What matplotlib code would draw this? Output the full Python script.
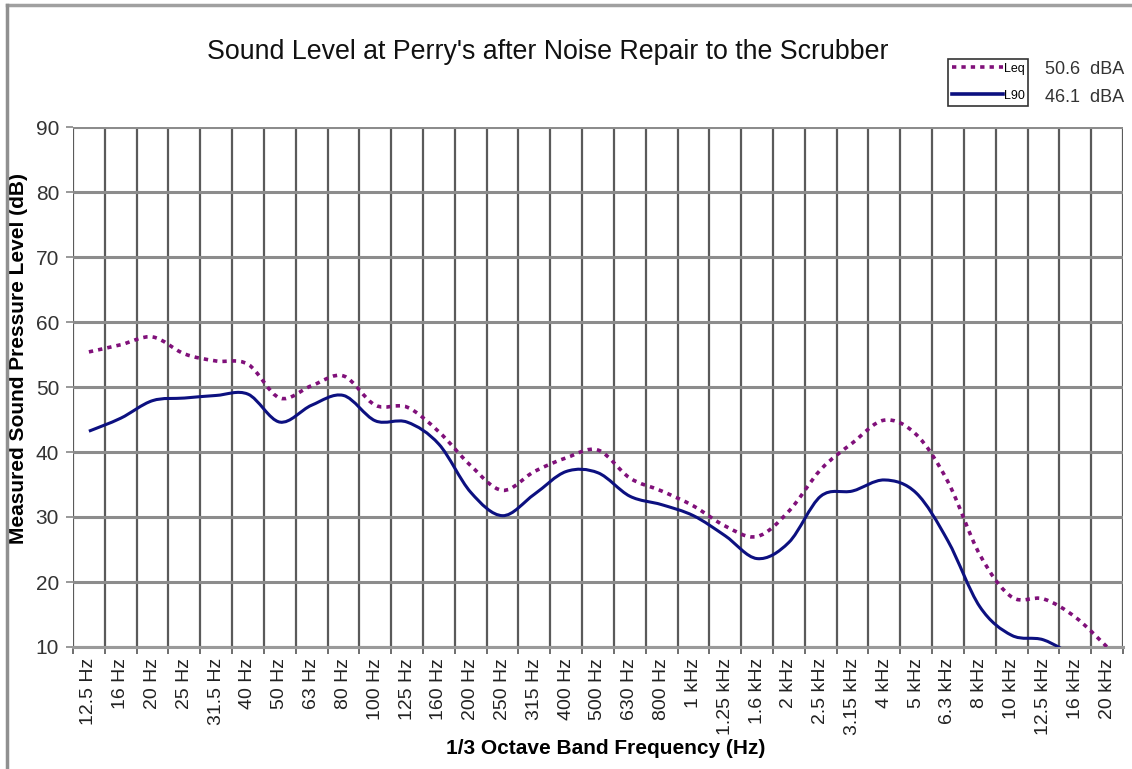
import numpy as np
import matplotlib
matplotlib.use('Agg')
import matplotlib.pyplot as plt
from matplotlib.path import Path
from matplotlib.patches import PathPatch
from matplotlib.lines import Line2D

plt.rcParams['font.family'] = ['Liberation Sans', 'DejaVu Sans']

bands = ['12.5 Hz', '16 Hz', '20 Hz', '25 Hz', '31.5 Hz', '40 Hz', '50 Hz', '63 Hz', '80 Hz',
         '100 Hz', '125 Hz', '160 Hz', '200 Hz', '250 Hz', '315 Hz', '400 Hz', '500 Hz',
         '630 Hz', '800 Hz', '1 kHz', '1.25 kHz', '1.6 kHz', '2 kHz', '2.5 kHz', '3.15 kHz',
         '4 kHz', '5 kHz', '6.3 kHz', '8 kHz', '10 kHz', '12.5 kHz', '16 kHz', '20 kHz']
leq = [55.4, 56.5, 57.7, 55.1, 54.0, 53.5, 48.3, 50.2, 51.7, 47.2, 46.9, 43.1, 37.9, 34.1,
       37.0, 39.1, 40.3, 36.0, 34.0, 31.7, 28.6, 27.0, 30.9, 37.3, 41.4, 44.9, 42.7, 35.4,
       24.2, 17.7, 17.4, 14.6, 10.0]
l90 = [43.2, 45.2, 47.9, 48.3, 48.7, 48.9, 44.6, 47.2, 48.7, 44.8, 44.6, 41.2, 33.8, 30.2,
       33.5, 37.0, 36.8, 33.2, 31.9, 30.2, 27.1, 23.6, 26.1, 33.2, 34.0, 35.7, 33.7, 26.3,
       16.2, 11.8, 11.1, 8.5]
leq_dba = '50.6  dBA'
l90_dba = '46.1  dBA'


def smooth_path(vals):
    # Excel style smoothed line: cubic bezier through points (catmull-rom tangents)
    pts = np.column_stack([np.arange(len(vals)), vals]).astype(float)
    verts = [pts[0]]; codes = [Path.MOVETO]
    n = len(pts)
    for i in range(n - 1):
        p0 = pts[max(i - 1, 0)]; p1 = pts[i]; p2 = pts[i + 1]; p3 = pts[min(i + 2, n - 1)]
        verts += [p1 + (p2 - p0) / 6, p2 - (p3 - p1) / 6, p2]
        codes += [Path.CURVE4] * 3
    return Path(verts, codes)


fig = plt.figure(figsize=(11.32, 7.69), dpi=100)
ax = fig.add_axes([73/1132, 1 - 647/769, 1050/1132, 520/769])

n = len(bands)
ax.set_xlim(-0.5, n - 0.5); ax.set_ylim(10, 90)
ax.set_xticks(np.arange(n + 1) - 0.5)
ax.set_xticklabels([])
ax.set_xticks(np.arange(n), minor=True)
ax.set_xticklabels(bands, minor=True, rotation=90, fontsize=14, color='#222222')
ax.tick_params(axis='x', which='major', length=5, width=1.2, color='#555555', direction='out')
ax.tick_params(axis='x', which='minor', length=0, pad=8)
ax.set_yticks(np.arange(10, 91, 10))
ax.tick_params(axis='y', length=5, width=1.2, color='#888888', labelsize=15, labelcolor='#333333', pad=5)
ax.grid(True, axis='x', which='major', color='#5a5a5a', lw=1.6)
ax.grid(True, axis='y', color='#8c8c8c', lw=2.2)
for s in ['top', 'right']: ax.spines[s].set_visible(False)
ax.spines['left'].set_visible(False)
ax.spines['bottom'].set_color('#9a9a9a'); ax.spines['bottom'].set_linewidth(2.2)

ax.add_patch(PathPatch(smooth_path(leq), fill=False, edgecolor='#80107a', lw=2.6,
                       linestyle=(0, (1.2, 1.4)), capstyle='butt', zorder=4))
ax.add_patch(PathPatch(smooth_path(l90), fill=False, edgecolor='#0c1080', lw=2.2, zorder=5))

ax.set_xlabel('1/3 Octave Band Frequency (Hz)', fontsize=15, fontweight='bold')
ax.xaxis.set_label_coords(0.507, -92/520)
ax.set_ylabel('Measured Sound Pressure Level (dB)', fontsize=15, fontweight='bold')
ax.yaxis.set_label_coords(-45/1050, 0.554)

fig.text(548/1132, 1 - 52/769, "Sound Level at Perry's after Noise Repair to the Scrubber",
         ha='center', va='center', fontsize=19.3, color='#111111')

handles = [Line2D([], [], color='#80107a', lw=2.6, linestyle=(0, (1.2, 1.4))),
           Line2D([], [], color='#0c1080', lw=2.6)]
leg = fig.legend(handles, ['Leq', 'L90'], loc='upper left', bbox_to_anchor=(948/1132, 1 - 59/769),
                 fontsize=9, handlelength=4.1, handletextpad=0.05, borderpad=0.3, labelspacing=1.2,
                 fancybox=False, edgecolor='#333333', framealpha=1, borderaxespad=0)
leg.get_frame().set_linewidth(1.2)
fig.text(1045/1132, 1 - 69/769, leq_dba, ha='left', va='center', fontsize=13, color='#333333')
fig.text(1045/1132, 1 - 97/769, l90_dba, ha='left', va='center', fontsize=13, color='#333333')

# outer frame of the chart
fig.add_artist(Line2D([7/1132, 1], [1 - 5/769, 1 - 5/769], color='#a0a0a0', lw=2.5, transform=fig.transFigure))
fig.add_artist(Line2D([7/1132, 7/1132], [0, 1 - 5/769], color='#909090', lw=2.5, transform=fig.transFigure))

plt.savefig('out.png', dpi=100, facecolor='white')
